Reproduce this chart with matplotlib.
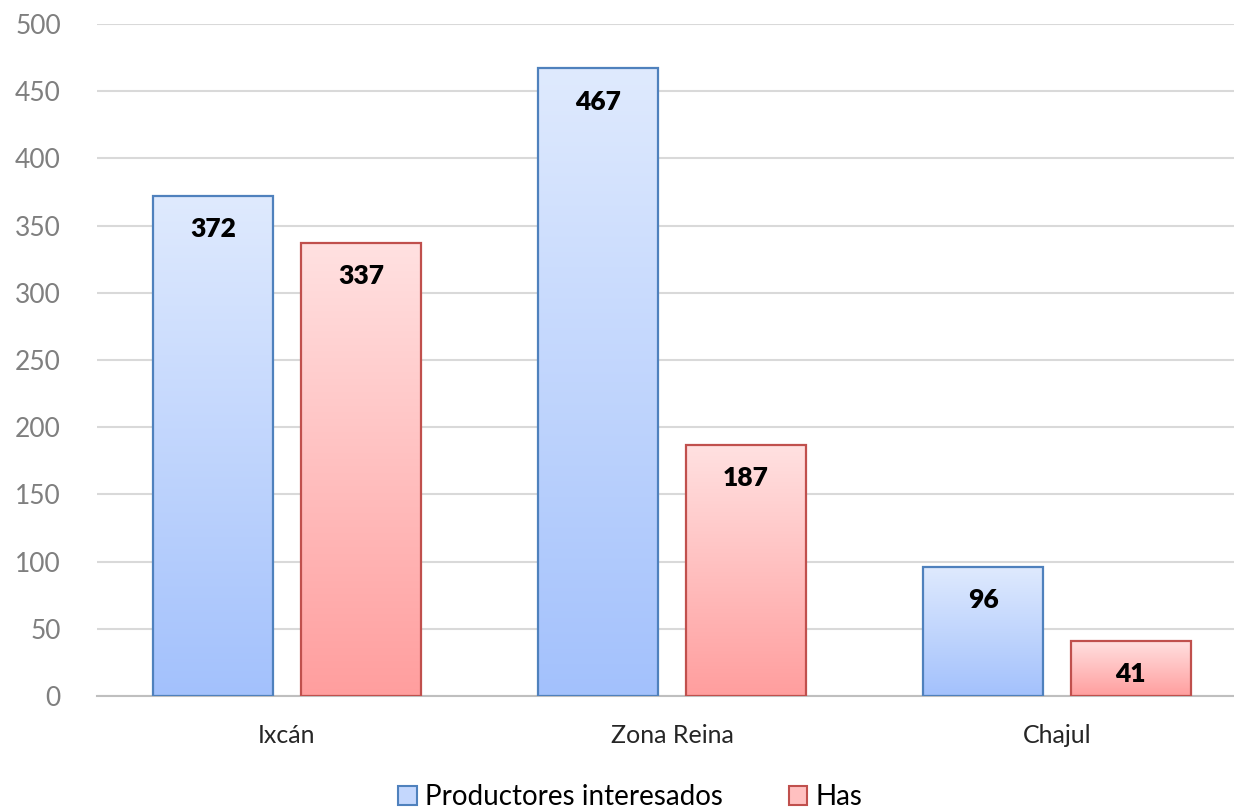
import numpy as np
import matplotlib.pyplot as plt
from matplotlib.patches import Patch
from matplotlib.colors import LinearSegmentedColormap

categories = ["Ixcán", "Zona Reina", "Chajul"]
productores = [372, 467, 96]
has = [337, 187, 41]
series_names = ["Productores interesados", "Has"]
yticks = [0, 50, 100, 150, 200, 250, 300, 350, 400, 450, 500]

plt.rcParams['font.family'] = ['Lato', 'DejaVu Sans']

fig = plt.figure(figsize=(12.34, 8.10), dpi=100)
ax = fig.add_axes([97 / 1234, 114 / 810, 1 - 97 / 1234, 672 / 810])

x = np.arange(len(categories))
w = 0.31
off = 0.192

blue_cmap = LinearSegmentedColormap.from_list("b", ["#A3C1FC", "#DFEAFE"])
red_cmap = LinearSegmentedColormap.from_list("r", ["#FF9E9E", "#FFE1E1"])
grad = np.linspace(0, 1, 256).reshape(-1, 1)

def gradient_bars(xs, vals, edge, cmap):
    bars = ax.bar(xs, vals, w, facecolor="none", edgecolor=edge, linewidth=1.6, zorder=3)
    for b in bars:
        x0, y0 = b.get_x(), b.get_y()
        im = ax.imshow(grad, cmap=cmap, aspect="auto", origin="lower",
                       extent=[x0, x0 + b.get_width(), y0, y0 + b.get_height()], zorder=2)
        im.set_clip_path(b)
    return bars

b1 = gradient_bars(x - off, productores, "#4F81BD", blue_cmap)
b2 = gradient_bars(x + off, has, "#C0504D", red_cmap)

for bars, vals in [(b1, productores), (b2, has)]:
    for b, v in zip(bars, vals):
        ax.annotate(str(v), (b.get_x() + b.get_width() / 2, v), xytext=(0, -24),
                    textcoords="offset points", ha="center", va="center",
                    fontsize=19, fontweight="heavy", color="black", zorder=5)

ax.set_xlim((97 - 287) / 385, (1234 - 287) / 385)
ax.set_ylim(0, 500)
ax.set_yticks(yticks)
ax.set_xticks(x)
ax.set_xticklabels(categories, fontsize=18, color="#262626")
ax.tick_params(axis="y", labelsize=19, labelcolor="#7F7F7F", length=0, pad=26)
ax.tick_params(axis="x", length=0, pad=20)
ax.grid(axis="y", color="#D9D9D9", linewidth=1.5, zorder=0)
ax.set_axisbelow(True)
for s in ["top", "right", "left"]:
    ax.spines[s].set_visible(False)
ax.spines["bottom"].set_color("#BFBFBF")
ax.spines["bottom"].set_linewidth(1.5)

handles = [Patch(facecolor="#C4D7FD", edgecolor="#4F81BD", linewidth=1.5),
           Patch(facecolor="#FFC0C0", edgecolor="#C0504D", linewidth=1.5)]
fig.legend(handles, series_names, loc="center", bbox_to_anchor=(0.511, 0.016), ncol=2,
           frameon=False, fontsize=20, handlelength=0.65, handleheight=0.65,
           handletextpad=0.3, columnspacing=2.4)

fig.savefig("out.png", dpi=100)
